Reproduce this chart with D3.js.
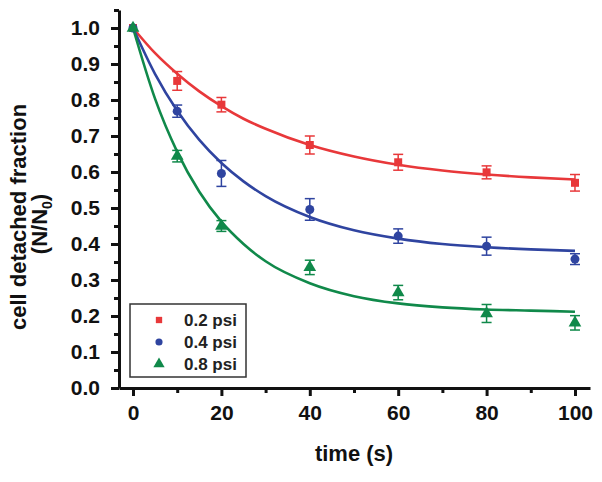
<!DOCTYPE html>
<html><head><meta charset="utf-8">
<script src="https://cdn.jsdelivr.net/npm/d3@7"></script>
<style>body{margin:0;background:#fff}svg{display:block}text{font-family:"Liberation Sans",Arial,sans-serif}</style>
</head><body><svg id="c" width="602" height="482"></svg>
<script>
// ---- data ----
const times = [0, 10, 20, 40, 60, 80, 100];
const seriesNames = ["0.2 psi", "0.4 psi", "0.8 psi"];
const red = [1.0, 0.853, 0.787, 0.675, 0.627, 0.599, 0.570];
const redErr = [0, 0.026, 0.02, 0.025, 0.022, 0.018, 0.023];
const blue = [1.0, 0.769, 0.596, 0.496, 0.422, 0.394, 0.358];
const blueErr = [0, 0.017, 0.036, 0.03, 0.02, 0.025, 0.015];
const green = [1.0, 0.644, 0.450, 0.335, 0.265, 0.207, 0.181];
const greenErr = [0, 0.016, 0.015, 0.02, 0.02, 0.025, 0.02];
const fitTimes = [0, 5, 10, 15, 20, 25, 30, 40, 50, 60, 70, 80, 90, 100];
const redFit = [1.0, 0.930, 0.873, 0.824, 0.783, 0.748, 0.720, 0.675, 0.643, 0.620, 0.604, 0.593, 0.585, 0.579];
const blueFit = [1.0, 0.872, 0.770, 0.689, 0.625, 0.574, 0.533, 0.475, 0.438, 0.415, 0.400, 0.391, 0.385, 0.381];
const greenFit = [1.0, 0.803, 0.656, 0.545, 0.462, 0.400, 0.352, 0.291, 0.255, 0.235, 0.224, 0.218, 0.215, 0.212];
const xTicks = [0, 20, 40, 60, 80, 100];
const xMinor = [10, 30, 50, 70, 90];
const yTicks = [0, 0.1, 0.2, 0.3, 0.4, 0.5, 0.6, 0.7, 0.8, 0.9, 1.0];
const yMinor = [0.05, 0.15, 0.25, 0.35, 0.45, 0.55, 0.65, 0.75, 0.85, 0.95, 1.05];
const colors = ["#e8383a", "#2f44a0", "#10894a"];
const symbols = [d3.symbolSquare, d3.symbolCircle, d3.symbolTriangle];

const svg = d3.select("#c");
const x = d3.scaleLinear().domain([-3.17, 103.4]).range([119, 590]);
const y = d3.scaleLinear().domain([0, 1.05]).range([388, 10]);

// axes
const ax = svg.append("g").attr("transform", "translate(0,388)")
  .call(d3.axisBottom(x).tickValues(xTicks).tickSize(8).tickPadding(9).tickSizeOuter(0).tickFormat(d3.format("d")));
const axm = svg.append("g").attr("transform", "translate(0,388)")
  .call(d3.axisBottom(x).tickValues(xMinor).tickSize(5).tickSizeOuter(0).tickFormat(""));
const ay = svg.append("g").attr("transform", "translate(119,0)")
  .call(d3.axisLeft(y).tickValues(yTicks).tickSize(8).tickPadding(11).tickSizeOuter(0).tickFormat(d3.format(".1f")));
const aym = svg.append("g").attr("transform", "translate(119,0)")
  .call(d3.axisLeft(y).tickValues(yMinor).tickSize(5).tickSizeOuter(0).tickFormat(""));
[ax, axm, ay, aym].forEach(g => {
  g.select(".domain").attr("stroke", "#111").attr("stroke-width", 3);
  g.selectAll(".tick line").attr("stroke", "#111").attr("stroke-width", 3);
  g.selectAll(".tick text").attr("fill", "#111").style("font-size", "21px").style("font-weight", "bold")
    .style("font-family", '"Liberation Sans", Arial, sans-serif');
});
axm.select(".domain").remove(); aym.select(".domain").remove();

// axis titles
svg.append("text").attr("x", 354).attr("y", 461).attr("text-anchor", "middle")
  .style("font-size", "22px").style("font-weight", "bold").attr("fill", "#111").text("time (s)");
svg.append("text").attr("transform", "translate(26,217) rotate(-90)").attr("text-anchor", "middle")
  .style("font-size", "22px").style("font-weight", "bold").attr("fill", "#111").text("cell detached fraction");
const t2 = svg.append("text").attr("transform", "translate(47,224) rotate(-90)").attr("text-anchor", "middle")
  .style("font-size", "22px").style("font-weight", "bold").attr("fill", "#111");
t2.append("tspan").text("(N/N");
t2.append("tspan").attr("dy", 5).style("font-size", "14px").text("0");
t2.append("tspan").attr("dy", -5).text(")");

// fit curves
const fits = [redFit, blueFit, greenFit];
const line = d3.line().x((d, i) => x(fitTimes[i])).y(d => y(d)).curve(d3.curveMonotoneX);
fits.forEach((f, k) => {
  svg.append("path").datum(f).attr("d", line).attr("fill", "none")
    .attr("stroke", colors[k]).attr("stroke-width", 2.6);
});

// points & error bars
const vals = [red, blue, green], errs = [redErr, blueErr, greenErr];
const sizes = [64, 64, 70];
vals.forEach((v, k) => {
  const g = svg.append("g");
  v.forEach((val, i) => {
    const e = errs[k][i];
    if (e > 0) {
      const cx = x(times[i]);
      g.append("line").attr("x1", cx).attr("x2", cx).attr("y1", y(val - e)).attr("y2", y(val + e))
        .attr("stroke", colors[k]).attr("stroke-width", 1.5);
      [val - e, val + e].forEach(b => g.append("line").attr("x1", cx - 5).attr("x2", cx + 5)
        .attr("y1", y(b)).attr("y2", y(b)).attr("stroke", colors[k]).attr("stroke-width", 1.5));
    }
    g.append("path").attr("d", d3.symbol().type(symbols[k]).size(sizes[k])())
      .attr("transform", `translate(${x(times[i])},${y(val)})`).attr("fill", colors[k]);
  });
});

// legend
const lg = svg.append("g");
lg.append("rect").attr("x", 130).attr("y", 304).attr("width", 116).attr("height", 73)
  .attr("fill", "#fff").attr("stroke", "#333").attr("stroke-width", 1.5);
const rowsY = [320, 342, 364];
seriesNames.forEach((n, k) => {
  lg.append("path").attr("d", d3.symbol().type(symbols[k]).size([40, 40, 55][k])())
    .attr("transform", `translate(159,${rowsY[k]})`).attr("fill", colors[k]);
  lg.append("text").attr("x", 184).attr("y", rowsY[k]).attr("dy", "0.35em")
    .style("font-size", "17px").style("font-weight", "bold").attr("fill", "#222").text(n);
});
</script></body></html>
